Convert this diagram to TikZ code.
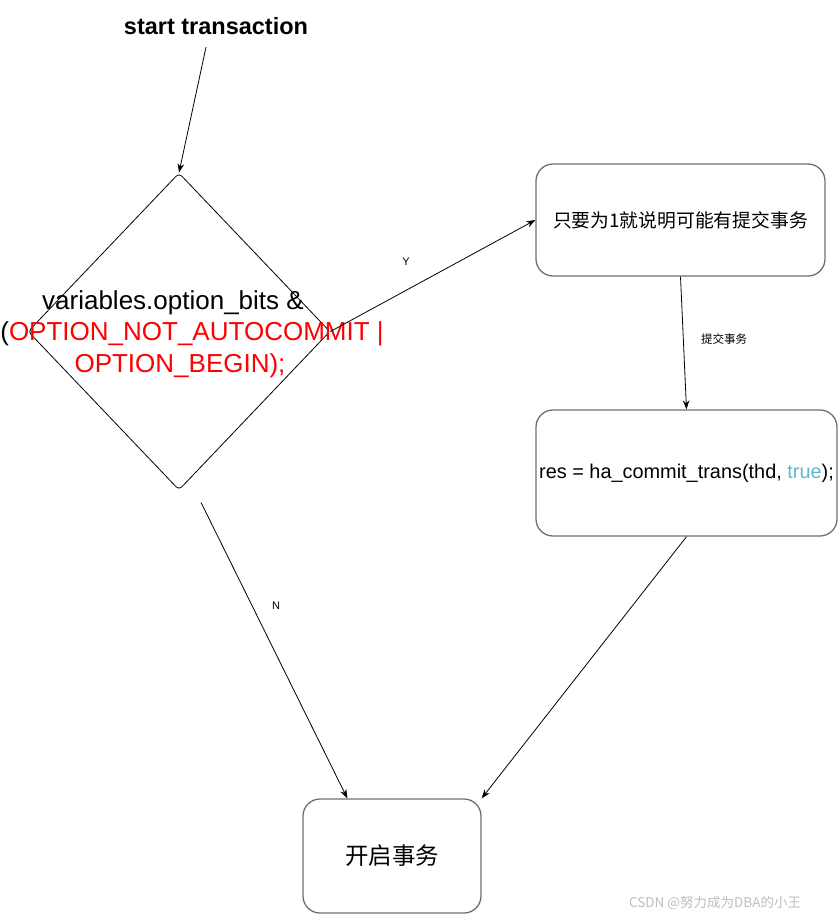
\documentclass[tikz,border=0pt]{standalone}
\usepackage{fontspec}
\setmainfont{Liberation Sans}
\newfontfamily\cjk{Noto Sans CJK SC}
\usetikzlibrary{shapes.geometric,arrows.meta,calc}
\definecolor{boxgray}{RGB}{112,112,112}
\definecolor{truecol}{RGB}{98,184,200}
\definecolor{wmgray}{RGB}{190,190,190}
\begin{document}
\begin{tikzpicture}[x=1pt,y=-1pt,
  box/.style={draw=boxgray,line width=1.3pt,rounded corners=17pt,inner sep=0pt},
  conn/.style={draw=black,line width=0.8pt,-{Stealth[length=9pt,width=6.5pt]}},
  lbl/.style={font=\fontsize{11}{13}\selectfont,inner sep=1pt}]
\useasboundingbox (0,0) rectangle (838,919);
\node[font=\bfseries\fontsize{23.5}{28}\selectfont] (title) at (216,26) {start transaction};
\node[diamond,draw=black,line width=0.8pt,minimum width=302pt,minimum height=317pt,inner sep=0pt,rounded corners=4pt] (d) at (179,331.5) {};
\node[align=center,font=\fontsize{26}{31.5}\selectfont,inner sep=0pt] (dtext) at (180,334) {variables.option\_bits \&\hspace*{14pt}\\\hspace*{24pt}(\textcolor{red}{OPTION\_NOT\_AUTOCOMMIT |}\\\textcolor{red}{OPTION\_BEGIN);}};
\node[box,minimum width=289pt,minimum height=112pt] (b1) at (680.5,220) {\cjk\fontsize{18.8}{22}\selectfont 只要为1就说明可能有提交事务};
\node[box,minimum width=301pt,minimum height=126pt] (b2) at (686.5,473) {\fontsize{19.9}{24}\selectfont res = ha\_commit\_trans(thd, \textcolor{truecol}{true});};
\node[box,minimum width=178pt,minimum height=114pt] (b3) at (392,856) {\cjk\fontsize{23.5}{28}\selectfont 开启事务};
\draw[conn] ($(title.south)+(-10,9)$) -- (d.north);
\draw[conn] (d.east) -- (b1.west);
\draw[conn] (b1.south) -- (b2.north);
\draw[conn] (b2.south) -- (b3.north east);
\draw[conn] ($(d.south)+(22,12)$) -- ($(b3.north west)+(45,0)$);
\node[lbl] (ly) at (406,262) {Y};
\node[lbl,font=\cjk\fontsize{11.5}{13}\selectfont] (lc) at (724,339) {提交事务};
\node[lbl] (ln) at (276,606) {N};
\node[font=\cjk\fontsize{13.5}{16}\selectfont,text=wmgray,inner sep=0pt] (wm) at (715,903) {CSDN @努力成为DBA的小王};
\end{tikzpicture}
\end{document}
